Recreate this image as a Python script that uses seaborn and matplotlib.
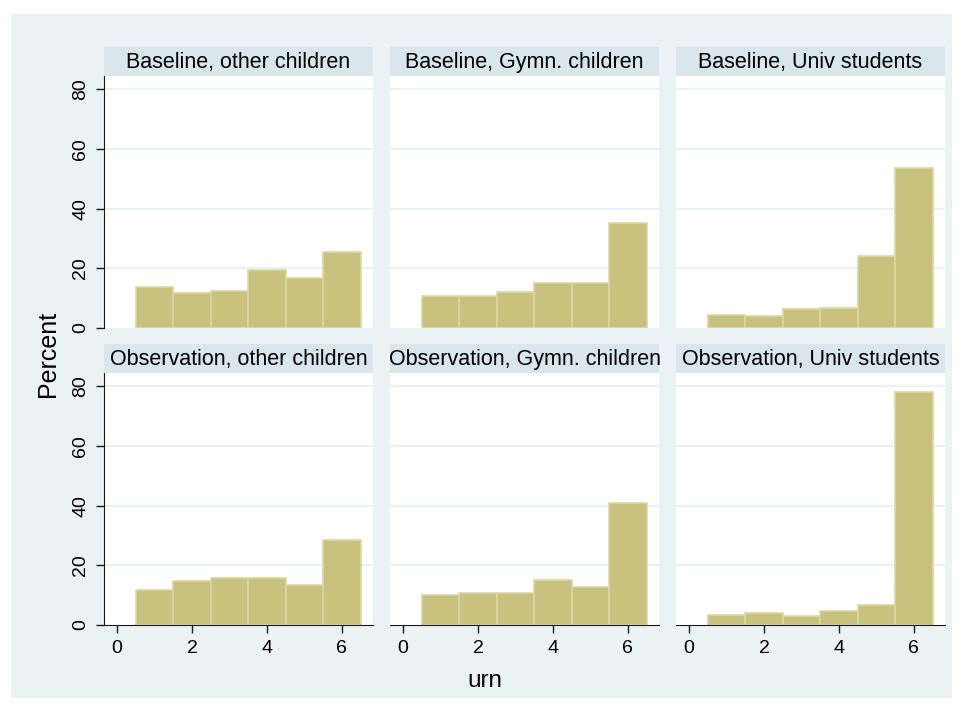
import numpy as np
import pandas as pd
import matplotlib
matplotlib.use('Agg')
import matplotlib.pyplot as plt
import seaborn as sns
from matplotlib.patches import Rectangle

sns.set_style('white')
plt.rcParams['font.family'] = ['Liberation Sans', 'DejaVu Sans']

# urn choice categories (x)
urn = [1, 2, 3, 4, 5, 6]

# panel titles, row-major
panels = ['Baseline, other children', 'Baseline, Gymn. children', 'Baseline, Univ students',
          'Observation, other children', 'Observation, Gymn. children', 'Observation, Univ students']

# percent per urn
base_other = [13.7, 11.8, 12.5, 19.3, 16.6, 25.4]
base_gymn = [10.6, 10.6, 12.0, 15.2, 15.2, 35.1]
base_univ = [4.4, 3.9, 6.4, 6.6, 24.2, 53.7]
obs_other = [11.8, 14.7, 15.6, 15.6, 13.5, 28.5]
obs_gymn = [9.9, 10.7, 10.7, 15.2, 12.6, 41.0]
obs_univ = [3.3, 4.1, 3.1, 4.7, 6.8, 77.9]

series = [base_other, base_gymn, base_univ, obs_other, obs_gymn, obs_univ]

y_ticks = [0, 20, 40, 60, 80]
x_ticks = [0, 2, 4, 6]

BG = '#EAF2F3'
STRIP = '#D9E6EB'
BAR = '#C9C27F'
BAR_EDGE = '#DCD7A3'

W, H = 963, 711
fig = plt.figure(figsize=(W / 100, H / 100), dpi=100)
fig.patch.set_facecolor('white')
fig.patches.append(Rectangle((11 / W, 1 - 698 / H), (952 - 11) / W, (698 - 14) / H,
                             transform=fig.transFigure, facecolor=BG, edgecolor='none', zorder=-10))

col_left = [104, 390, 676]
row_bottom = [328, 625]
ax_w, ax_h, strip_h = 269, 252, 29

for i, (title, vals) in enumerate(zip(panels, series)):
    r, c = divmod(i, 3)
    left = col_left[c] / W
    bottom = 1 - row_bottom[r] / H
    ax = fig.add_axes([left, bottom, ax_w / W, ax_h / H])
    ax.set_facecolor('white')

    df = pd.DataFrame({'urn': urn, 'pct': vals})
    sns.histplot(data=df, x='urn', weights='pct', discrete=True, ax=ax,
                 color=BAR, edgecolor=BAR_EDGE, linewidth=1.2, alpha=1, zorder=3)

    ax.set_xlim(-0.35, 6.83)
    ax.set_ylim(0, 84.4)
    ax.set_yticks(y_ticks)
    ax.set_xticks(x_ticks)
    for yv in y_ticks[1:]:
        ax.axhline(yv, color=BG, linewidth=1.6, zorder=1)
    ax.set_xlabel('')
    ax.set_ylabel('')

    for s in ['top', 'right']:
        ax.spines[s].set_visible(False)
    ax.spines['left'].set_visible(c == 0)
    ax.spines['bottom'].set_visible(r == 1)
    ax.spines['left'].set_color('#1a1a1a')
    ax.spines['bottom'].set_color('#1a1a1a')
    ax.spines['left'].set_zorder(5)
    ax.spines['bottom'].set_zorder(5)

    ax.tick_params(axis='y', left=(c == 0), labelleft=(c == 0), length=5.5, width=1,
                   color='#1a1a1a', labelcolor='black', labelsize=14, pad=5)
    ax.tick_params(axis='x', bottom=(r == 1), labelbottom=(r == 1), length=5.5, width=1,
                   color='#1a1a1a', labelcolor='black', labelsize=14, pad=5)
    if c == 0:
        for lab in ax.get_yticklabels():
            lab.set_rotation(90)
            lab.set_va('center')

    # strip title
    sax = fig.add_axes([left, bottom + ax_h / H, ax_w / W, strip_h / H])
    sax.set_facecolor(STRIP)
    sax.set_xticks([])
    sax.set_yticks([])
    for s in sax.spines.values():
        s.set_visible(False)
    sax.text(0.5, 0.46, title, ha='center', va='center', fontsize=15.5, color='black')

fig.text(48 / W, 1 - 354 / H, 'Percent', rotation=90, ha='center', va='center',
         fontsize=18, color='black')
fig.text(485 / W, 1 - 681 / H, 'urn', ha='center', va='center', fontsize=17.5, color='black')

plt.savefig('out.png', dpi=100)
plt.close(fig)
